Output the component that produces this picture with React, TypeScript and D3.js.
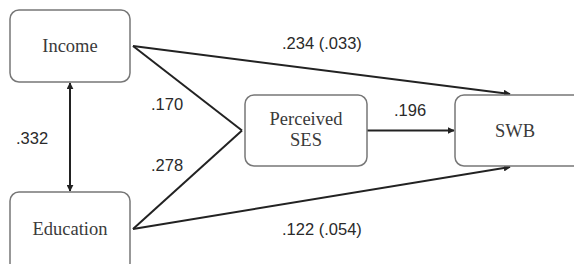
import React from "react";
import * as d3 from "d3";

// path model: nodes, edges and the coefficients on them
const nodeIds = ["income", "education", "ses", "swb"];
const nodeLabels = [["Income"], ["Education"], ["Perceived", "SES"], ["SWB"]];
const edgeFrom = ["income", "income", "education", "ses", "income", "education"];
const edgeTo = ["education", "ses", "ses", "swb", "swb", "swb"];
const edgeCoef = [".332", ".170", ".278", ".196", ".234 (.033)", ".122 (.054)"];

const W = 574;
const H = 264;
const SERIF = '"Liberation Serif", "Times New Roman"';
const SANS = '"Liberation Sans", Arial';

// layout (pixel boxes) kept apart from data
const box: Record<string, { x: number; y: number; w: number; h: number; ty: number; tx?: number }> = {
  income: { x: 10, y: 10, w: 120, h: 72, ty: 52 },
  education: { x: 10, y: 192, w: 120, h: 80, ty: 235 },
  ses: { x: 245, y: 95, w: 122, h: 71, ty: 125 },
  swb: { x: 455, y: 95, w: 130, h: 71, ty: 137, tx: 515 },
};
// coefficient label positions
const labelPos: [number, number][] = [
  [16, 144],
  [151, 110],
  [151, 171],
  [394, 116],
  [282, 49],
  [282, 235],
];

const cx = (id: string) => box[id].x + box[id].w / 2;
const cy = (id: string) => box[id].y + box[id].h / 2;
const srcY: Record<string, number> = { income: 46, education: 229, ses: cy("ses") };

const pts = (i: number): [number, number][] => {
  const f = edgeFrom[i];
  const t = edgeTo[i];
  if (t === "education")
    return [
      [cx("income"), box.income.y + box.income.h + 1],
      [cx("income"), box.education.y - 1],
    ];
  const fy = srcY[f];
  if (t === "ses") return [[box[f].x + box[f].w + 3, fy], [box.ses.x - 3, fy + (cy("ses") - fy)]];
  if (f === "ses") return [[box.ses.x + box.ses.w, fy], [box.swb.x - 1, fy]];
  const ty = f === "income" ? box.swb.y - 1 : box.swb.y + box.swb.h + 1;
  return [[box[f].x + box[f].w + 3, fy], [510, ty]];
};

const line = d3.line<[number, number]>();

const App = () => (
  <svg width={W} height={H} style={{ position: "absolute", left: 0, top: 0, background: "white" }}>
    <defs>
      <marker
        id="arr"
        viewBox="0 0 10 10"
        refX={9}
        refY={5}
        markerWidth={3.5}
        markerHeight={3.5}
        orient="auto-start-reverse"
      >
        <path d="M0,0 L10,5 L0,10 z" fill="#222" />
      </marker>
    </defs>
    {edgeFrom.map((f, i) => (
      <path
        key={i}
        d={line(pts(i)) ?? ""}
        fill="none"
        stroke="#222"
        strokeWidth={2}
        markerEnd={edgeTo[i] !== "ses" ? "url(#arr)" : undefined}
        markerStart={edgeTo[i] === "education" ? "url(#arr)" : undefined}
      />
    ))}
    {edgeCoef.map((c, i) => (
      <text
        key={c}
        x={labelPos[i][0]}
        y={labelPos[i][1]}
        fill="#2a2a2a"
        style={{ fontFamily: SANS, fontSize: "16.5px" }}
      >
        {c}
      </text>
    ))}
    {nodeIds.map((d, i) => {
      const b = box[d];
      return (
        <g key={d}>
          <rect x={b.x} y={b.y} width={b.w} height={b.h} rx={9} fill="white" stroke="#777" strokeWidth={1.5} />
          <text textAnchor="middle" fill="#3a3a3a" style={{ fontFamily: SERIF, fontSize: "18.5px" }}>
            {nodeLabels[i].map((l, j) => (
              <tspan key={l} x={b.tx ?? cx(d)} y={b.ty + j * 21}>
                {l}
              </tspan>
            ))}
          </text>
        </g>
      );
    })}
  </svg>
);

export default App;
